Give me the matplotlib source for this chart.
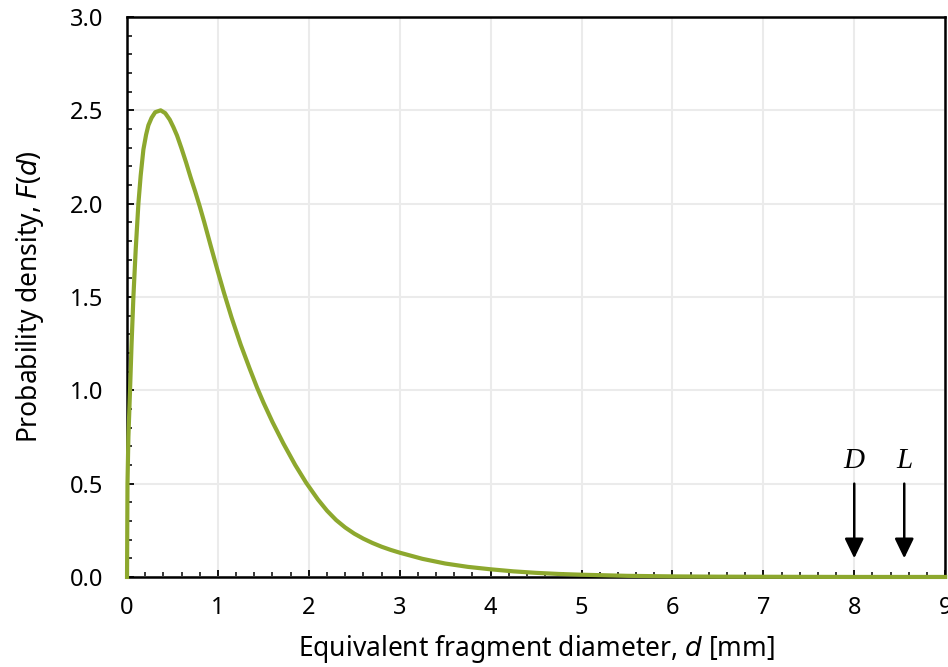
import matplotlib.pyplot as plt
from matplotlib.ticker import MultipleLocator

# fragment size distribution, d [mm] vs F(d)
diameter = [0.0, 0.005, 0.015, 0.033, 0.05, 0.07, 0.095, 0.125, 0.15, 0.18,
            0.21, 0.235, 0.27, 0.31, 0.37, 0.42, 0.47, 0.51, 0.55, 0.60,
            0.65, 0.70, 0.75, 0.80, 0.85, 0.92, 1.0, 1.065, 1.15, 1.25,
            1.35, 1.43, 1.5, 1.6, 1.72, 1.85, 1.97, 2.1, 2.2, 2.3,
            2.4, 2.5, 2.6, 2.7, 2.8, 2.9, 3.0, 3.25, 3.5, 3.75,
            4.0, 4.25, 4.5, 4.75, 5.0, 5.5, 6.0, 6.5, 7.0, 8.0, 9.0]
density = [0.0, 0.5, 0.75, 1.0, 1.25, 1.5, 1.75, 2.0, 2.15, 2.29,
           2.37, 2.42, 2.46, 2.49, 2.50, 2.485, 2.45, 2.41, 2.365, 2.295,
           2.22, 2.14, 2.065, 1.985, 1.90, 1.775, 1.635, 1.525, 1.39, 1.245,
           1.115, 1.015, 0.935, 0.83, 0.715, 0.60, 0.505, 0.415, 0.355, 0.305,
           0.265, 0.232, 0.205, 0.182, 0.162, 0.145, 0.13, 0.097, 0.072, 0.054,
           0.041, 0.03, 0.022, 0.016, 0.012, 0.006, 0.003, 0.0015, 0.001, 0.0, 0.0]

marker_names = ["D", "L"]
marker_pos = [8.0, 8.55]
arrow_top = 0.5
arrow_tip = 0.1

LINE_COLOR = "#8DA82E"
GRID_COLOR = "#EBEBEB"

plt.rcParams["font.family"] = ["Noto Sans", "DejaVu Sans"]

fig = plt.figure(figsize=(9.48, 6.67), dpi=100)
ax = fig.add_axes([0.134, 0.135, 0.863, 0.8395])

ax.plot(diameter, density, color=LINE_COLOR, linewidth=3.0,
        solid_joinstyle="round", clip_on=False, zorder=5)

for name, x in zip(marker_names, marker_pos):
    ax.annotate("", xy=(x, arrow_tip), xytext=(x, arrow_top),
                arrowprops=dict(arrowstyle="-|>,head_length=1.2,head_width=0.58",
                                color="black", lw=1.8, shrinkA=0, shrinkB=0))
    ax.text(x, arrow_top + 0.05, name, ha="center", va="bottom",
            fontsize=21, style="italic", family="Liberation Serif")

ax.set_xlim(0, 9)
ax.set_ylim(0, 3.0)
ax.xaxis.set_major_locator(MultipleLocator(1))
ax.xaxis.set_minor_locator(MultipleLocator(0.2))
ax.yaxis.set_major_locator(MultipleLocator(0.5))
ax.yaxis.set_minor_locator(MultipleLocator(0.1))
ax.yaxis.set_major_formatter(plt.FormatStrFormatter("%.1f"))

ax.tick_params(which="major", direction="in", length=5, width=1.3,
               labelsize=17, colors="black")
ax.tick_params(which="minor", direction="in", length=3.5, width=1.1)
ax.tick_params(axis="x", which="major", pad=14)
ax.tick_params(axis="y", which="major", pad=17)

ax.grid(True, which="major", color=GRID_COLOR, linewidth=1.5)
ax.set_axisbelow(True)
for side in ["left", "bottom", "top", "right"]:
    ax.spines[side].set_linewidth(1.8)
    ax.spines[side].set_color("black")

ax.set_xlabel("Equivalent fragment diameter, $\\mathit{d}$ [mm]", fontsize=19,
              labelpad=9)
ax.set_ylabel("Probability density, $\\mathit{F}$($\\mathit{d}$)", fontsize=19,
              labelpad=17)

fig.savefig("out.png", dpi=100)
